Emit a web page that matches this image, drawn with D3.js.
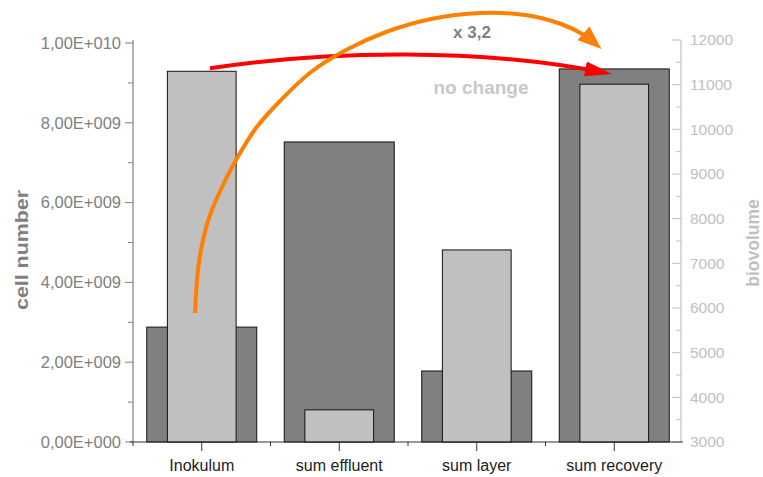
<!DOCTYPE html>
<html>
<head>
<meta charset="utf-8">
<script src="https://cdn.jsdelivr.net/npm/d3@7/dist/d3.min.js"></script>
<style>
  html, body { margin: 0; padding: 0; background: #fff; }
  svg { display: block; font-family: "Liberation Sans", Arial, sans-serif; }
</style>
</head>
<body>
<svg id="chart" width="763" height="477"></svg>
<script>
// Categories and the two measured series
const categories = ["Inokulum", "sum effluent", "sum layer", "sum recovery"];
const cellNumber = [2.88e9, 7.52e9, 1.78e9, 9.35e9];   // left axis
const biovolume  = [11300, 3720, 7300, 11010];          // right axis

const leftTicks  = [0, 2e9, 4e9, 6e9, 8e9, 1e10];
const rightTicks = [3000, 4000, 5000, 6000, 7000, 8000, 9000, 10000, 11000, 12000];

const svg = d3.select("#chart");
const plot = { left: 133, right: 683, top: 40, bottom: 442 };

const x = d3.scaleBand().domain(categories).range([plot.left, plot.right]);
const yL = d3.scaleLinear().domain([0, 1e10]).range([plot.bottom, 43]);
const yR = d3.scaleLinear().domain([3000, 12000]).range([plot.bottom, plot.top]);

const sci = v => {
  if (v === 0) return "0,00E+000";
  const e = Math.floor(Math.log10(v));
  const m = v / Math.pow(10, e);
  return m.toFixed(2).replace(".", ",") + "E+" + String(e).padStart(3, "0");
};

// Bars: dark = cell number (wide), light = biovolume (narrow)
const bw = x.bandwidth();
svg.append("g").selectAll("rect").data(categories).join("rect")
  .attr("x", d => x(d) + bw * 0.1)
  .attr("width", bw * 0.8)
  .attr("y", (d, i) => yL(cellNumber[i]))
  .attr("height", (d, i) => yL(0) - yL(cellNumber[i]))
  .attr("fill", "#808080").attr("stroke", "#111").attr("stroke-width", 1);

svg.append("g").selectAll("rect").data(categories).join("rect")
  .attr("x", d => x(d) + bw * 0.25)
  .attr("width", bw * 0.5)
  .attr("y", (d, i) => yR(biovolume[i]))
  .attr("height", (d, i) => yR(3000) - yR(biovolume[i]))
  .attr("fill", "#c0c0c0").attr("stroke", "#111").attr("stroke-width", 1);

// Left axis (cell number)
const gL = svg.append("g").attr("transform", `translate(${plot.left},0)`);
gL.append("line").attr("y1", plot.top).attr("y2", plot.bottom).attr("stroke", "#808080").attr("stroke-width", 1.2);
gL.selectAll("line.minor").data(d3.range(1e9, 1e10, 2e9)).join("line").attr("class", "minor")
  .attr("x1", -5).attr("x2", 0).attr("y1", d => yL(d)).attr("y2", d => yL(d))
  .attr("stroke", "#808080");
gL.selectAll("line.major").data(leftTicks).join("line").attr("class", "major")
  .attr("x1", -8).attr("x2", 0).attr("y1", d => yL(d)).attr("y2", d => yL(d))
  .attr("stroke", "#808080");
gL.selectAll("text").data(leftTicks).join("text")
  .attr("x", -12).attr("y", d => yL(d)).attr("dy", "0.35em")
  .attr("text-anchor", "end").attr("font-size", 16.5).attr("fill", "#808080")
  .text(sci);

// Right axis (biovolume), ticks pointing inward
const gR = svg.append("g").attr("transform", `translate(${plot.right - 2},0)`);
gR.append("line").attr("y1", plot.top).attr("y2", plot.bottom).attr("stroke", "#c0c0c0").attr("stroke-width", 1.2);
gR.selectAll("line.minor").data(d3.range(3500, 12000, 1000)).join("line").attr("class", "minor")
  .attr("x1", -5).attr("x2", 0).attr("y1", d => yR(d)).attr("y2", d => yR(d))
  .attr("stroke", "#c0c0c0");
gR.selectAll("line.major").data(rightTicks).join("line").attr("class", "major")
  .attr("x1", -9).attr("x2", 0).attr("y1", d => yR(d)).attr("y2", d => yR(d))
  .attr("stroke", "#c0c0c0");
gR.selectAll("text").data(rightTicks).join("text")
  .attr("x", 9).attr("y", d => yR(d)).attr("dy", "0.35em")
  .attr("text-anchor", "start").attr("font-size", 15.5).attr("fill", "#c0c0c0")
  .text(d => d);

// Bottom axis
const gB = svg.append("g").attr("transform", `translate(0,${plot.bottom})`);
gB.append("line").attr("x1", plot.left - 3).attr("x2", plot.right).attr("stroke", "#333").attr("stroke-width", 1.2);
gB.selectAll("line.center").data(categories).join("line").attr("class", "center")
  .attr("x1", d => x(d) + bw / 2).attr("x2", d => x(d) + bw / 2).attr("y1", 0).attr("y2", 9)
  .attr("stroke", "#333");
gB.selectAll("line.edge").data(categories).join("line").attr("class", "edge")
  .attr("x1", d => x(d)).attr("x2", d => x(d)).attr("y1", 0).attr("y2", 4)
  .attr("stroke", "#333");
gB.selectAll("text").data(categories).join("text")
  .attr("x", d => x(d) + bw / 2).attr("y", 29)
  .attr("text-anchor", "middle").attr("font-size", 16).attr("fill", "#222")
  .text(d => d);

// Axis titles
svg.append("text").attr("transform", "translate(28,250) rotate(-90)")
  .attr("text-anchor", "middle").attr("font-size", 19).attr("font-weight", "bold")
  .attr("textLength", 120).attr("lengthAdjust", "spacingAndGlyphs")
  .attr("fill", "#808080").text("cell number");
svg.append("text").attr("transform", "translate(759,243) rotate(-90)")
  .attr("text-anchor", "middle").attr("font-size", 17.5).attr("font-weight", "bold")
  .attr("fill", "#c0c0c0").text("biovolume");

// Annotation arrows
const defs = svg.append("defs");
function head(id, color, len, wid) {
  defs.append("marker").attr("id", id)
    .attr("viewBox", `0 0 ${len} ${wid}`)
    .attr("refX", len - 6).attr("refY", wid / 2)
    .attr("markerWidth", len).attr("markerHeight", wid)
    .attr("markerUnits", "userSpaceOnUse").attr("orient", "auto")
    .append("path").attr("d", `M0,0 L${len},${wid / 2} L0,${wid} Z`).attr("fill", color);
}
head("hRed", "#ff0000", 27, 15);
head("hOrange", "#ff8000", 24, 18);

const iInk = 0, iRec = 3;
const redStart = [x(categories[iInk]) + bw * 0.56, yR(biovolume[iInk]) - 3];
const redEnd = [x(categories[iRec]) + bw * 0.44, yL(cellNumber[iRec]) + 4];
const redPath = d3.path();
redPath.moveTo(redStart[0], redStart[1]);
redPath.bezierCurveTo(330, 50, 480, 48, redEnd[0], redEnd[1]);
svg.append("path").attr("d", redPath.toString()).attr("fill", "none")
  .attr("stroke", "#ff0000").attr("stroke-width", 4).attr("stroke-linecap", "butt")
  .attr("marker-end", "url(#hRed)");

const orangePts = [[195, 313], [198, 270], [203, 240], [210, 215], [222, 187], [236, 160],
  [256, 128], [281, 100], [311, 72], [346, 50], [386, 32], [431, 19], [480, 13], [525, 15],
  [561, 24], [584, 35], [597, 45]];
svg.append("path").attr("d", d3.line().curve(d3.curveCatmullRom)(orangePts)).attr("fill", "none")
  .attr("stroke", "#ff8000").attr("stroke-width", 4).attr("stroke-linecap", "butt")
  .attr("marker-end", "url(#hOrange)");

svg.append("text").attr("x", 472).attr("y", 38).attr("text-anchor", "middle")
  .attr("font-size", 17).attr("font-weight", "bold").attr("fill", "#808080").text("x 3,2");
svg.append("text").attr("x", 481).attr("y", 94).attr("text-anchor", "middle")
  .attr("font-size", 19).attr("font-weight", "bold").attr("fill", "#c8c8c8").text("no change");
</script>
</body>
</html>
